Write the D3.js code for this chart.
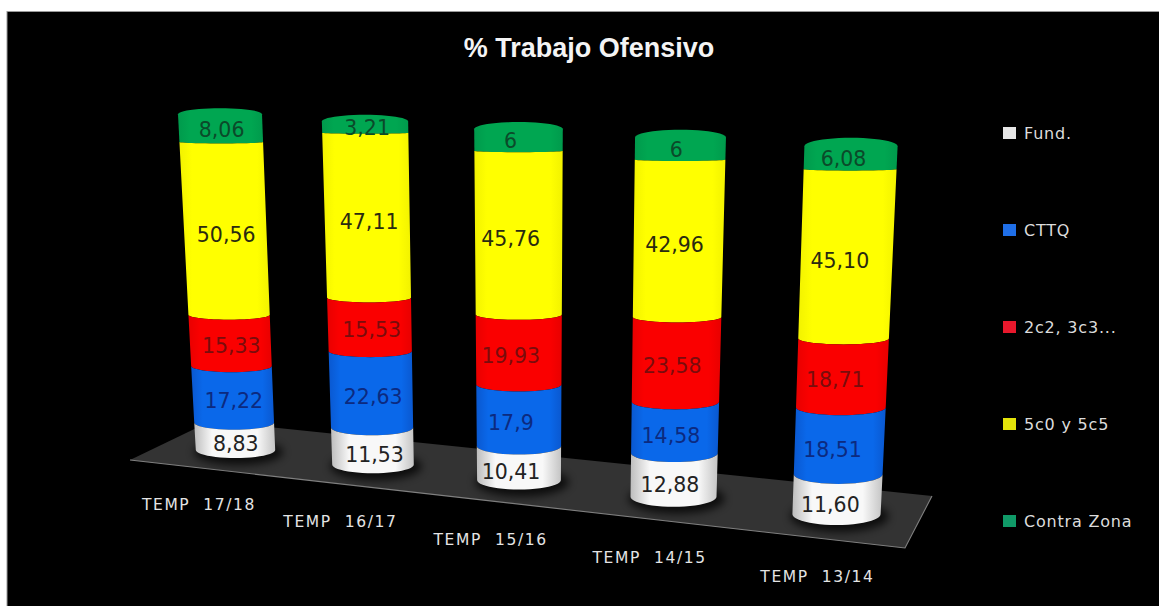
<!DOCTYPE html>
<html>
<head>
<meta charset="utf-8">
<title>% Trabajo Ofensivo</title>
<script src="https://cdn.jsdelivr.net/npm/d3@7"></script>
<style>
  html, body { margin: 0; padding: 0; background: #fff; overflow: hidden; }
  svg { display: block; }
  text { font-family: "DejaVu Sans", sans-serif; }
</style>
</head>
<body>
<svg id="chart" width="1159" height="606"></svg>
<script>
// Seasons, front to back along the floor
const categories = ["TEMP  17/18", "TEMP  16/17", "TEMP  15/16", "TEMP  14/15", "TEMP  13/14"];

// Percentages per season, written with the decimal comma they are printed with
const fund      = ["8,83", "11,53", "10,41", "12,88", "11,60"];
const cttq      = ["17,22", "22,63", "17,9", "14,58", "18,51"];
const dosCDos   = ["15,33", "15,53", "19,93", "23,58", "18,71"];
const cincoC    = ["50,56", "47,11", "45,76", "42,96", "45,10"];
const contraZona = ["8,06", "3,21", "6", "6", "6,08"];

const seriesNames = ["Fund.", "CTTQ", "2c2, 3c3...", "5c0 y 5c5", "Contra Zona"];
const seriesValues = [fund, cttq, dosCDos, cincoC, contraZona];

// Side colours: edge, centre, edge
const sideColors = [
  ["#bdbdbd", "#f8f8f8", "#c4c4c4"],
  ["#0a58d0", "#0a68ea", "#0a58d0"],
  ["#e80000", "#fa0000", "#e80000"],
  ["#f2f200", "#ffff00", "#f2f200"],
  ["#009a4c", "#00a651", "#009a4c"]
];
const labelInk = ["#222222", "#0c2a80", "#7a0c0c", "#2a2a10", "#0b4a2a"];
const swatch = ["#e6e6e6", "#1f6fe8", "#e8182c", "#e4e40a", "#109a68"];

const parseValue = s => +s.replace(",", ".");

const svg = d3.select("#chart");
const W = 1159, H = 606;

// Perspective layout of the columns: everything grows slightly towards the viewer
const baseX  = i => 235.5 + 133.25 * i + 4.25 * i * i;
const topX   = i => 220 + 140.75 * i + 4.25 * i * i;
const baseY  = i => 458 + 14.75 * i + 0.5 * i * i;
const topY   = i => 115 + 7 * i + 0.25 * i * i;
const baseHalf = i => 39.7 + 1.1 * i;
const topHalf  = i => 42 + 1.15 * i;
const baseRy = i => 8 + 0.7 * i;
const capRy  = i => 6 + 0.6 * i;
const labelShift = [1, 2, -8, -4, -7];

// Cumulative percentage to screen position, one set of scales per column
const columns = categories.map((name, i) => {
  const level = d3.scalePow().exponent(1.03).domain([0, 100]).range([baseY(i), topY(i)]);
  const along = d3.scaleLinear().domain([0, 100]);
  return {
    name, i,
    y: level,
    x: along.copy().range([baseX(i), topX(i)]),
    half: along.copy().range([baseHalf(i), topHalf(i)]),
    ry: along.copy().range([baseRy(i), 0.8])
  };
});

const defs = svg.append("defs");
sideColors.forEach((stops, s) => {
  const g = defs.append("linearGradient").attr("id", "side" + s);
  const inset = s === 0 ? 0.22 : 0.14;
  [[0, stops[0]], [inset, stops[1]], [1 - inset, stops[1]], [1, stops[2]]].forEach(([o, c]) =>
    g.append("stop").attr("offset", o).attr("stop-color", c));
});
defs.append("filter").attr("id", "soft").attr("x", "-30%").attr("y", "-60%")
  .attr("width", "160%").attr("height", "220%")
  .append("feGaussianBlur").attr("stdDeviation", 4);

// Page frame: black panel with a thin grey edge on the top and left
svg.append("rect").attr("x", 7).attr("y", 11.5).attr("width", W).attr("height", H)
  .attr("fill", "#000").attr("stroke", "#9a9a9a").attr("stroke-width", 1);

// Floor plate
const floorCorners = [[130, 460], [211, 421], [932, 496], [905, 548]];
svg.append("path")
  .attr("d", d3.line()(floorCorners) + "Z")
  .attr("fill", "#333333");
svg.append("path")
  .attr("d", d3.line()([floorCorners[0], floorCorners[3], floorCorners[2]]))
  .attr("fill", "none").attr("stroke", "#808080").attr("stroke-width", 1.1);

// Contact shadows under the cylinders
svg.append("g").selectAll("ellipse").data(columns).join("ellipse")
  .attr("cx", c => c.x(0) + 3)
  .attr("cy", c => c.y(0) - c.ry(0) + 2)
  .attr("rx", c => c.half(0) + 5)
  .attr("ry", c => c.ry(0) + 5)
  .attr("fill", "#000").attr("opacity", 0.75).attr("filter", "url(#soft)");

// Front half of a ring at a given cumulative level, sampled left to right
const frontArc = (c, v) => d3.range(0, 25).map(k => {
  const t = Math.PI * k / 24;
  return [c.x(v) - c.half(v) * Math.cos(t), c.y(v) - c.ry(v) + c.ry(v) * Math.sin(t)];
});
const backArc = (c, v, r) => d3.range(0, 25).map(k => {
  const t = Math.PI * k / 24;
  return [c.x(v) + c.half(v) * Math.cos(t), c.y(v) - c.ry(v) - r * Math.sin(t)];
});
const outline = d3.line();

const segments = [];
columns.forEach(c => {
  let acc = 0;
  seriesValues.forEach((vals, s) => {
    const v = parseValue(vals[c.i]);
    segments.push({ c, s, from: acc, to: acc + v, text: vals[c.i] });
    acc += v;
  });
});

// Stacks are painted top segment first so each lower ring overlaps the one above
const stacks = svg.append("g");
stacks.selectAll("path")
  .data(segments.slice().sort((a, b) => d3.descending(a.s, b.s)))
  .join("path")
  .attr("d", d => {
    const upper = d.s === seriesValues.length - 1
      ? backArc(d.c, d.to, capRy(d.c.i))
      : frontArc(d.c, d.to).reverse();
    return outline(frontArc(d.c, d.from).concat(upper)) + "Z";
  })
  .attr("fill", d => `url(#side${d.s})`);

// Value labels; the tall yellow band sits a little lower on its segment
svg.append("g").selectAll("text").data(segments).join("text")
  .attr("x", d => d.c.x((d.from + d.to) / 2) + labelShift[d.c.i])
  .attr("y", d => (d.c.y(d.from) + d.c.y(d.to)) / 2 + (d.s === 3 ? 3 : 0))
  .attr("dy", "0.36em")
  .attr("text-anchor", "middle")
  .attr("font-size", 20.5)
  .attr("fill", d => labelInk[d.s])
  .text(d => d.text);

// Season labels below the floor
svg.append("g").selectAll("text").data(columns).join("text")
  .attr("x", c => 199 + 137 * c.i + 4.4 * c.i * c.i)
  .attr("y", c => 504 + 17 * c.i + 0.25 * c.i * c.i)
  .attr("dy", "0.36em")
  .attr("text-anchor", "middle")
  .attr("font-size", 15.5)
  .attr("letter-spacing", 1.6)
  .attr("fill", "#e4e4e4")
  .attr("xml:space", "preserve")
  .style("white-space", "pre")
  .text(c => c.name);

// Legend
const legendY = d3.scaleLinear().domain([0, seriesNames.length - 1]).range([133, 521]);
const legend = svg.append("g").selectAll("g").data(seriesNames).join("g")
  .attr("transform", (d, i) => `translate(1003,${legendY(i)})`);
legend.append("rect")
  .attr("x", 0).attr("y", -6).attr("width", 13).attr("height", 12)
  .attr("fill", (d, i) => swatch[i]);
legend.append("text")
  .attr("x", 21).attr("dy", "0.36em")
  .attr("font-size", 16)
  .attr("letter-spacing", 0.8)
  .attr("fill", "#dcdcdc")
  .text(d => d);

// Title
svg.append("text")
  .attr("x", 589).attr("y", 47).attr("dy", "0.36em")
  .attr("text-anchor", "middle")
  .attr("font-size", 27).attr("font-weight", 700)
  .style("font-family", '"Liberation Sans", sans-serif')
  .attr("fill", "#f4f4f4")
  .text("% Trabajo Ofensivo");
</script>
</body>
</html>
